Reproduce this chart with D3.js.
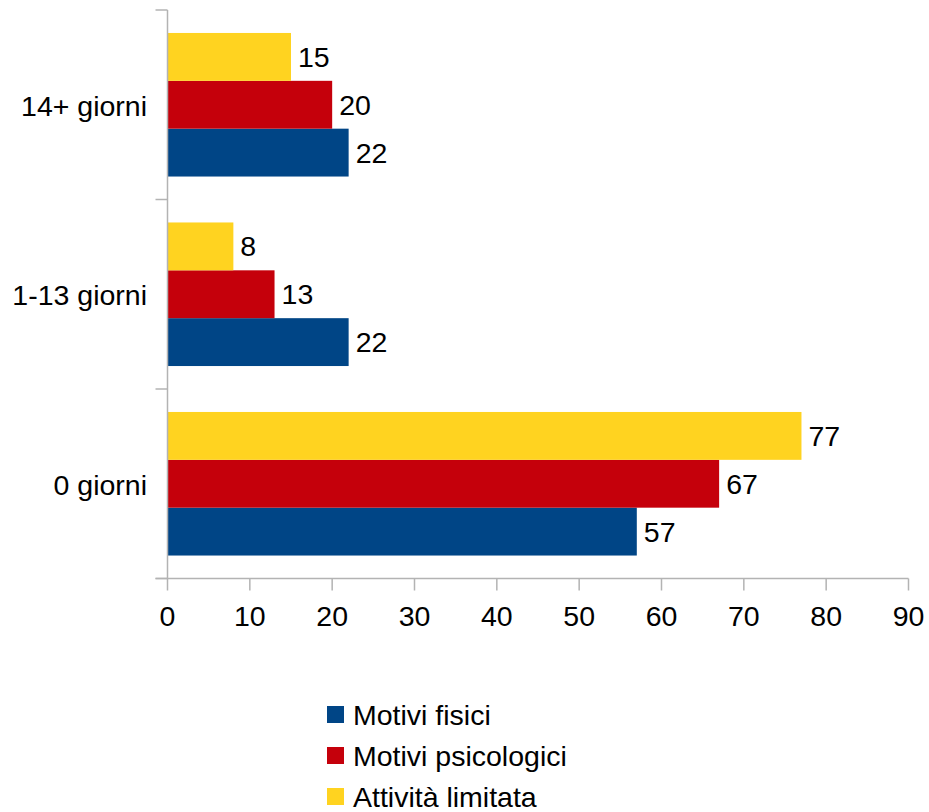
<!DOCTYPE html>
<html>
<head>
<meta charset="utf-8">
<script src="https://cdn.jsdelivr.net/npm/d3@7"></script>
<style>
  html, body { margin: 0; padding: 0; background: #fff; }
  svg { display: block; font-family: "Liberation Sans", Arial, sans-serif; }
</style>
</head>
<body>
<svg id="chart" width="929" height="812"></svg>
<script>
// Categories, bottom to top as drawn on the vertical axis
const categories = ["0 giorni", "1-13 giorni", "14+ giorni"];
const seriesNames = ["Motivi fisici", "Motivi psicologici", "Attività limitata"];
const seriesColors = ["#004586", "#c5000b", "#ffd320"];
const motiviFisici = [57, 22, 22];
const motiviPsicologici = [67, 13, 20];
const attivitaLimitata = [77, 8, 15];
const xTicks = [0, 10, 20, 30, 40, 50, 60, 70, 80, 90];

const seriesValues = [motiviFisici, motiviPsicologici, attivitaLimitata];

const svg = d3.select("#chart");
const plotLeft = 167.5, plotRight = 908.5, plotTop = 10, plotBottom = 578.5;
const axisColor = "#b3b3b3";
const fontSize = 28.5;

const x = d3.scaleLinear().domain([0, 90]).range([plotLeft, plotRight]);
// Top band is the last category
const y = d3.scaleBand().domain(categories.slice().reverse()).range([plotTop, plotBottom]).paddingInner(0).paddingOuter(0);
const inner = d3.scaleBand().domain([2, 1, 0]).range([0, y.bandwidth()]).paddingOuter(0.48).paddingInner(0);

// Bars and value labels
categories.forEach((cat, ci) => {
  const g = svg.append("g").attr("transform", `translate(0,${y(cat)})`);
  seriesValues.forEach((vals, si) => {
    const v = vals[ci];
    const by = inner(si);
    g.append("rect")
      .attr("x", x(0))
      .attr("y", by)
      .attr("width", x(v) - x(0))
      .attr("height", inner.bandwidth())
      .attr("fill", seriesColors[si]);
    g.append("text")
      .attr("x", x(v) + 7)
      .attr("y", by + inner.bandwidth() / 2)
      .attr("dy", "0.35em")
      .attr("font-size", fontSize)
      .attr("fill", "#000")
      .text(v);
  });
});

// Vertical (category) axis line and ticks
const yAxis = svg.append("g");
yAxis.append("line")
  .attr("x1", plotLeft).attr("x2", plotLeft).attr("y1", plotTop).attr("y2", plotBottom)
  .attr("stroke", axisColor).attr("stroke-width", 1.5);
const bandEdges = categories.map(c => y(c)).concat([plotBottom]);
yAxis.selectAll("line.tick").data(bandEdges).enter().append("line")
  .attr("class", "tick")
  .attr("x1", plotLeft - 12).attr("x2", plotLeft).attr("y1", d => d).attr("y2", d => d)
  .attr("stroke", axisColor).attr("stroke-width", 1.5);
yAxis.selectAll("text").data(categories).enter().append("text")
  .attr("x", 147)
  .attr("y", d => y(d) + y.bandwidth() / 2)
  .attr("dy", "0.38em")
  .attr("text-anchor", "end")
  .attr("font-size", fontSize)
  .attr("fill", "#000")
  .text(d => d);

// Horizontal (value) axis
const xAxis = svg.append("g");
xAxis.append("line")
  .attr("x1", plotLeft - 12).attr("x2", plotRight).attr("y1", plotBottom).attr("y2", plotBottom)
  .attr("stroke", axisColor).attr("stroke-width", 1.5);
xAxis.selectAll("line.tick").data(xTicks).enter().append("line")
  .attr("class", "tick")
  .attr("x1", d => x(d)).attr("x2", d => x(d)).attr("y1", plotBottom).attr("y2", plotBottom + 12)
  .attr("stroke", axisColor).attr("stroke-width", 1.5);
xAxis.selectAll("text").data(xTicks).enter().append("text")
  .attr("x", d => x(d))
  .attr("y", 626)
  .attr("text-anchor", "middle")
  .attr("font-size", fontSize)
  .attr("fill", "#000")
  .text(d => d);

// Legend
const legend = svg.append("g").attr("transform", "translate(327,706)");
seriesNames.forEach((name, i) => {
  const row = legend.append("g").attr("transform", `translate(0,${i * 41})`);
  row.append("rect").attr("x", 0).attr("y", 0).attr("width", 17).attr("height", 17)
    .attr("fill", seriesColors[i]);
  row.append("text").attr("x", 26).attr("y", 19)
    .attr("font-size", fontSize).attr("fill", "#000").text(name);
});
</script>
</body>
</html>
